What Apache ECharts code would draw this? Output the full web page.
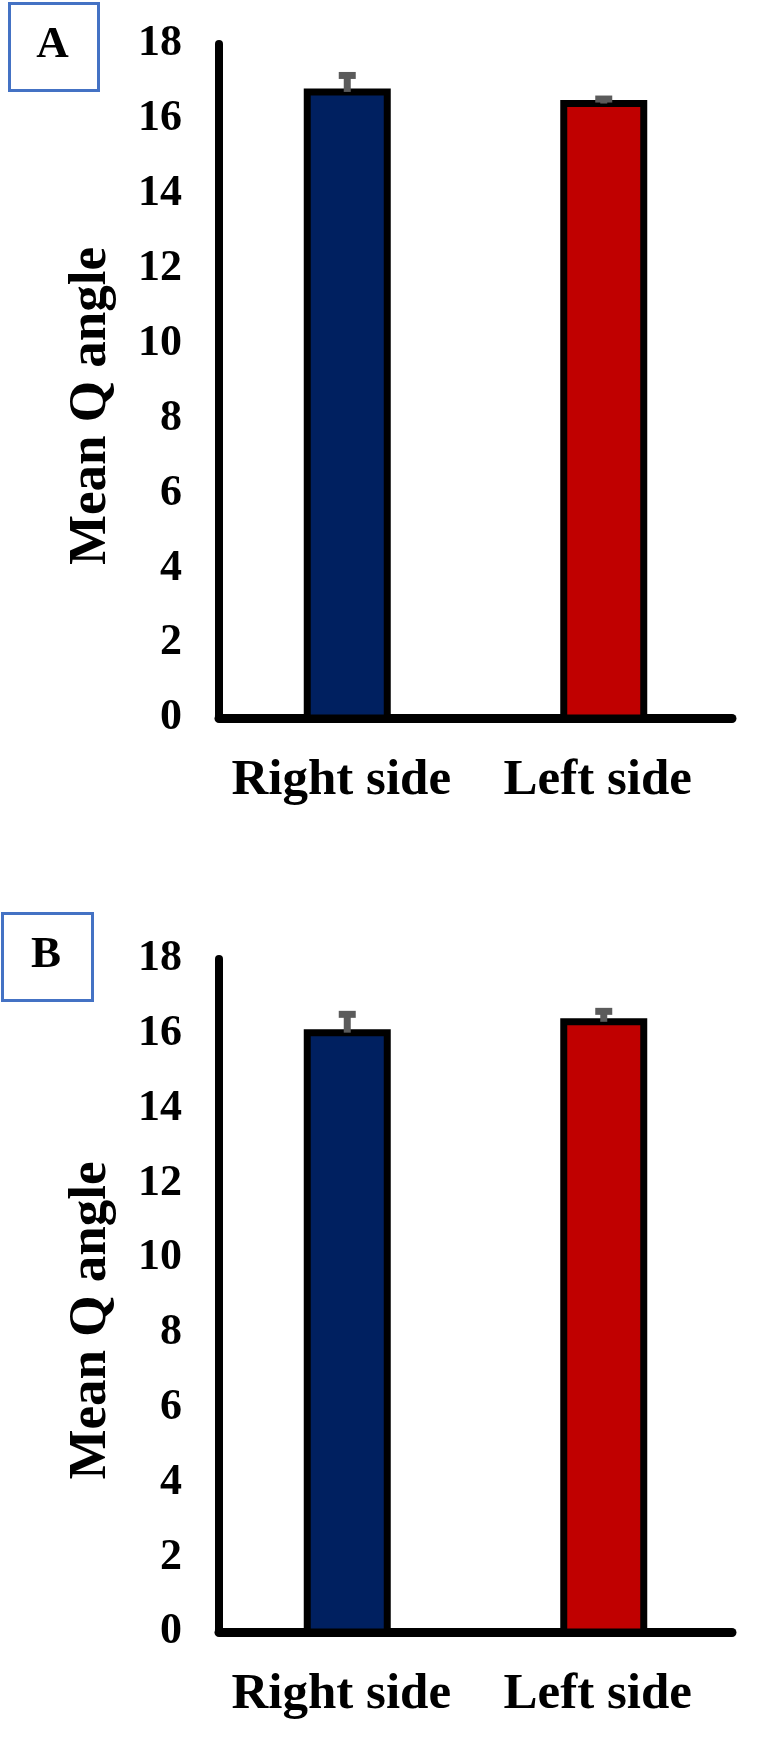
<!DOCTYPE html>
<html>
<head>
<meta charset="utf-8">
<script src="https://cdn.jsdelivr.net/npm/echarts@6/dist/echarts.min.js"></script>
<style>
html,body{margin:0;padding:0;background:#fff;}
#c{width:773px;height:1747px;}
</style>
</head>
<body>
<div id="c"></div>
<script>
const categories = ['Right side', 'Left side'];
const meansA = [16.72, 16.41];
const errorsA = [0.44, 0.12];
const meansB = [16.03, 16.32];
const errorsB = [0.49, 0.28];
const barColors = ['#002060', '#C00000'];
const panelLabels = ['A', 'B'];
const yAxisName = 'Mean Q angle';
const yMin = 0, yMax = 18, yInterval = 2;

const FONT = "'Liberation Serif', 'Times New Roman', serif";
const ERR_COLOR = '#5b5b5b';
const BAR_W = 80;

// Bars: rectangle from 0 to the mean, outline centred on the edge (Excel style)
function renderBar(params, api) {
  const x = api.value(0), m = api.value(1);
  const top = api.coord([x, m]);
  const base = api.coord([x, 0]);
  return {
    type: 'rect',
    shape: {x: top[0] - BAR_W / 2, y: top[1], width: BAR_W, height: base[1] - top[1]},
    style: {fill: barColors[x], stroke: '#000', lineWidth: 7}
  };
}

function renderErr(params, api) {
  const x = api.value(0), m = api.value(1), e = api.value(2);
  const p0 = api.coord([x, m]);
  const p1 = api.coord([x, m + e]);
  return {
    type: 'group',
    children: [
      {type: 'line', shape: {x1: p0[0], y1: p0[1], x2: p1[0], y2: p1[1]}, style: {stroke: ERR_COLOR, lineWidth: 7}},
      {type: 'line', shape: {x1: p1[0] - 8.5, y1: p1[1], x2: p1[0] + 8.5, y2: p1[1]}, style: {stroke: ERR_COLOR, lineWidth: 7}}
    ]
  };
}

const grids = [
  {left: 219, right: 41, top: 44, height: 674},
  {left: 219, right: 41, top: 959, height: 673}
];

function xAxisFor(i) {
  return {
    type: 'category', gridIndex: i, data: categories,
    axisLine: {lineStyle: {color: '#000', width: 9}},
    axisTick: {show: false},
    axisLabel: {interval: 0, hideOverlap: false, color: '#000', fontFamily: FONT, fontWeight: 'bold', fontSize: 51, margin: 37, padding: [0, 12, 0, 0]}
  };
}
function yAxisFor(i) {
  return {
    type: 'value', gridIndex: i, min: yMin, max: yMax, interval: yInterval,
    name: yAxisName, nameLocation: 'middle', nameRotate: 90, nameGap: 101,
    nameTextStyle: {color: '#000', fontFamily: FONT, fontWeight: 'bold', fontSize: 53, padding: [0, 50, 0, 0]},
    axisLine: {show: true, lineStyle: {color: '#000', width: 8}},
    axisTick: {show: false},
    splitLine: {show: false},
    axisLabel: {color: '#000', fontFamily: FONT, fontWeight: 'bold', fontSize: 44, margin: 37}
  };
}

function pointData(means, errs) {
  return means.map((v, i) => [i, v, errs[i]]);
}

const panels = [
  {means: meansA, errs: errorsA},
  {means: meansB, errs: errorsB}
];

const series = [];
panels.forEach((p, i) => {
  series.push({
    type: 'custom', xAxisIndex: i, yAxisIndex: i, renderItem: renderBar,
    encode: {x: 0, y: 1}, data: pointData(p.means, p.errs), z: 2
  });
  series.push({
    type: 'custom', xAxisIndex: i, yAxisIndex: i, renderItem: renderErr,
    encode: {x: 0, y: 1}, data: pointData(p.means, p.errs), z: 5
  });
});

const boxes = [
  {x: 8, y: 2, w: 89, h: 87},
  {x: 1, y: 912, w: 90, h: 87}
];
const graphic = [];
boxes.forEach((b, i) => {
  graphic.push({type: 'rect', left: b.x, top: b.y, shape: {width: b.w, height: b.h}, style: {fill: '#fff', stroke: '#4472C4', lineWidth: 3}});
  graphic.push({type: 'text', x: b.x + b.w / 2, y: b.y + b.h / 2, style: {text: panelLabels[i], fill: '#000', font: 'bold 45px ' + FONT, align: 'center', verticalAlign: 'middle'}});
});

const chart = echarts.init(document.getElementById('c'), null, {renderer: 'canvas'});
chart.setOption({
  backgroundColor: '#fff',
  animation: false,
  grid: grids,
  xAxis: [xAxisFor(0), xAxisFor(1)],
  yAxis: [yAxisFor(0), yAxisFor(1)],
  series: series,
  graphic: graphic
});
</script>
</body>
</html>
